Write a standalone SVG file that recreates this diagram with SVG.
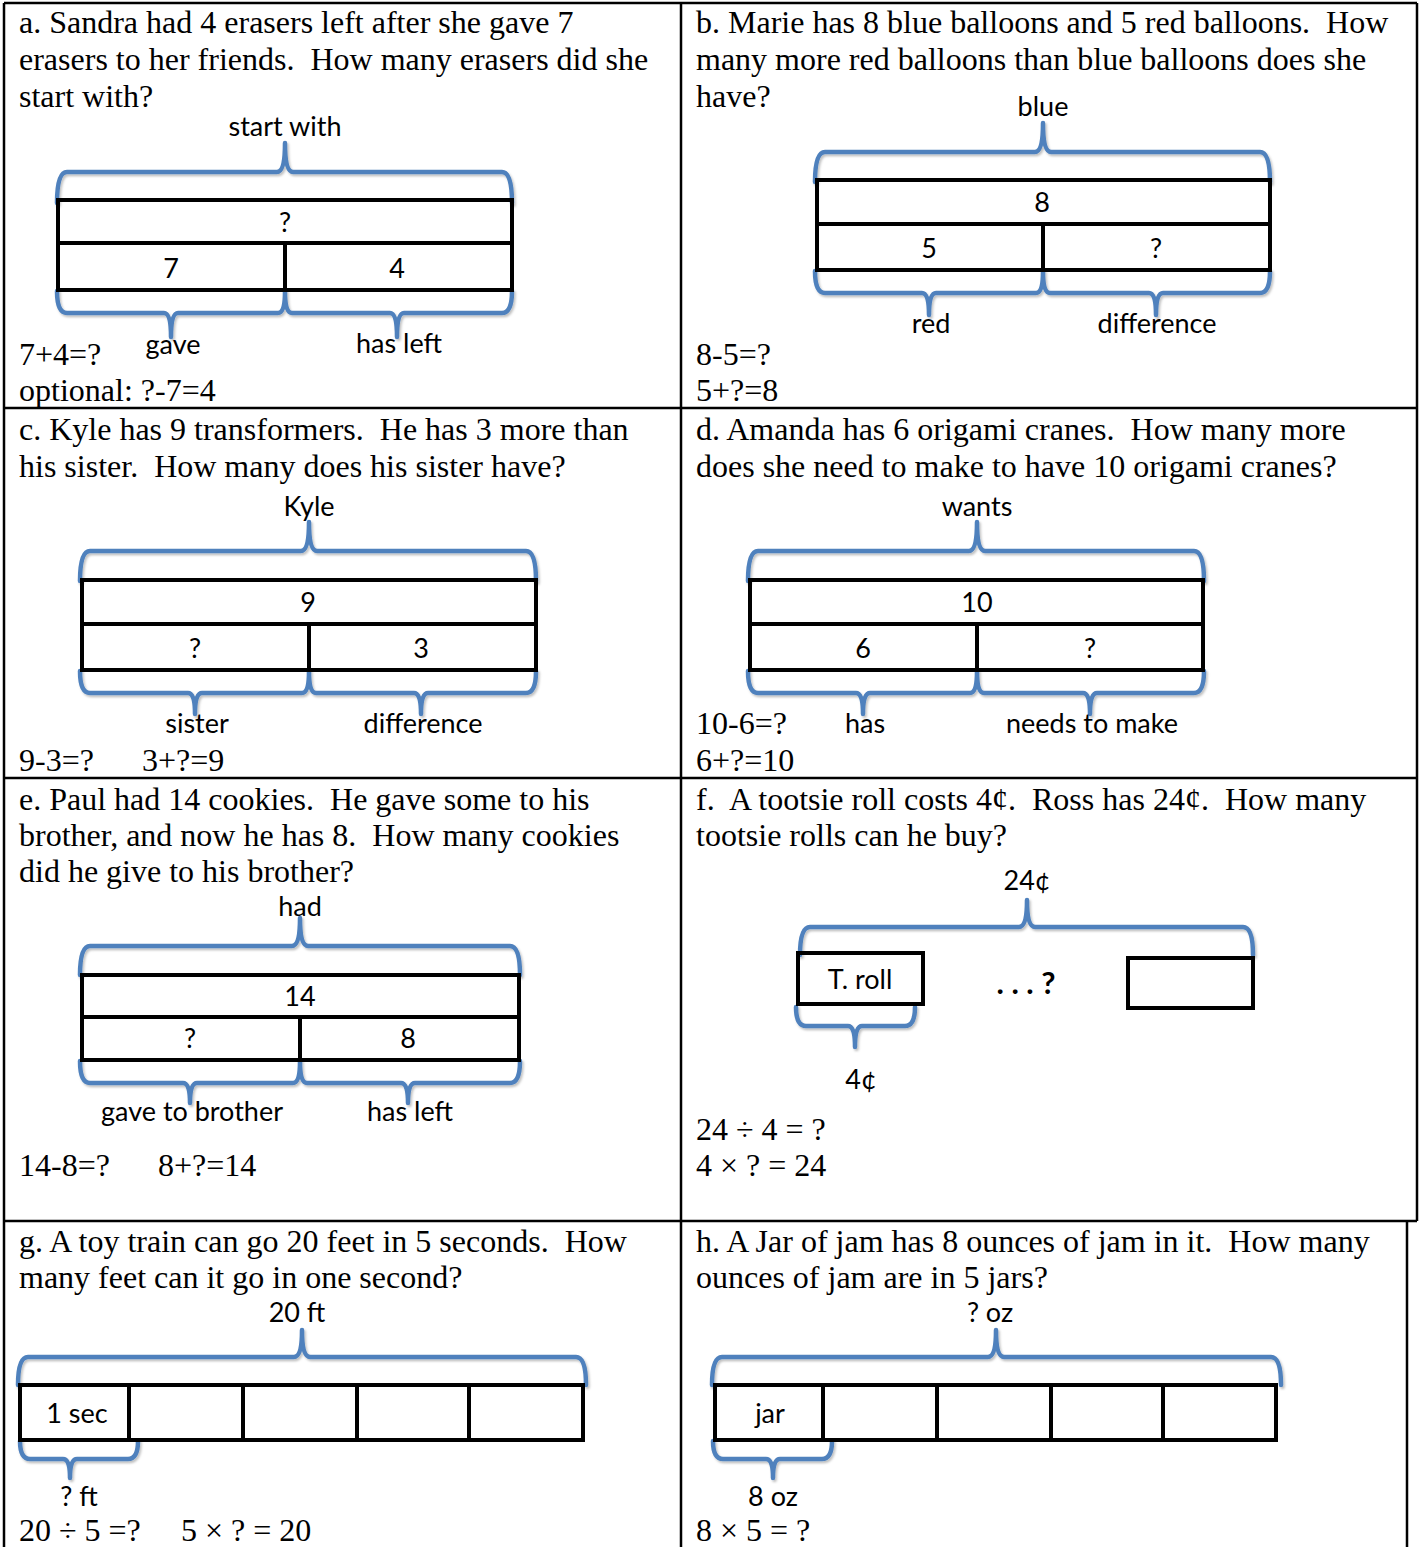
<svg xmlns="http://www.w3.org/2000/svg" width="1419" height="1547" viewBox="0 0 1419 1547" xml:space="preserve">
<defs>
<style>
.t{font-family:"Liberation Serif","Times New Roman",serif;font-size:32px;fill:#000;white-space:pre}
.l{font-family:Lato,"Liberation Sans",sans-serif;font-size:27px;fill:#000;text-anchor:middle}
.b{font-weight:bold;font-size:31px}
.grid{stroke:#000;stroke-width:2.5;fill:none}
.box{stroke:#000;stroke-width:4;fill:none}
.br{stroke:#4F81BD;stroke-width:4.5;fill:none;stroke-linecap:round;stroke-linejoin:round;filter:url(#sh)}
</style>
<filter id="sh" x="-5%" y="-30%" width="110%" height="160%">
<feDropShadow dx="1.5" dy="2" stdDeviation="1.2" flood-color="#000" flood-opacity="0.25"/>
</filter>
</defs>
<rect width="1419" height="1547" fill="#fff"/>
<g id="table">
<path class="grid" d="M4,3 H1417 M4,408 H1417 M4,778 H1417 M4,1221 H1417 M4,3 V1547 M681,3 V1547 M1417,3 V1221 M1407,1221 V1547"/>
</g>
<g id="braces">
<path class="br" d="M57,203 Q57,172 67,172 L277,172 Q285,172 285,143 Q285,172 293,172 L502,172 Q512,172 512,203"/>
<path class="br" d="M57,291 Q57,313 67,313 L164,313 Q171,313 171,337 Q171,313 178,313 L278,313 Q285,313 285,291 Q285,313 292,313 L390,313 Q397,313 397,337 Q397,313 404,313 L502,313 Q512,313 512,291"/>
<path class="br" d="M815,182 Q815,152 825,152 L1035,152 Q1043,152 1043,123 Q1043,152 1051,152 L1260,152 Q1270,152 1270,182"/>
<path class="br" d="M815,271 Q815,293 825,293 L922,293 Q929,293 929,315 Q929,293 936,293 L1036,293 Q1043,293 1043,271 Q1043,293 1050,293 L1149,293 Q1156,293 1156,315 Q1156,293 1163,293 L1260,293 Q1270,293 1270,271"/>
<path class="br" d="M80,581 Q80,551 90,551 L301,551 Q309,551 309,522 Q309,551 317,551 L526,551 Q536,551 536,581"/>
<path class="br" d="M80,671 Q80,693 90,693 L188,693 Q195,693 195,714 Q195,693 202,693 L302,693 Q309,693 309,671 Q309,693 316,693 L414,693 Q421,693 421,714 Q421,693 428,693 L526,693 Q536,693 536,671"/>
<path class="br" d="M748,581 Q748,551 758,551 L969,551 Q977,551 977,522 Q977,551 985,551 L1194,551 Q1204,551 1204,581"/>
<path class="br" d="M748,671 Q748,693 758,693 L856,693 Q863,693 863,714 Q863,693 870,693 L970,693 Q977,693 977,671 Q977,693 984,693 L1083,693 Q1090,693 1090,714 Q1090,693 1097,693 L1194,693 Q1204,693 1204,671"/>
<path class="br" d="M80,975 Q80,946 90,946 L292,946 Q300,946 300,918 Q300,946 308,946 L510,946 Q520,946 520,975"/>
<path class="br" d="M80,1061 Q80,1083 90,1083 L183,1083 Q190,1083 190,1103 Q190,1083 197,1083 L293,1083 Q300,1083 300,1061 Q300,1083 307,1083 L401,1083 Q408,1083 408,1103 Q408,1083 415,1083 L510,1083 Q520,1083 520,1061"/>
<path class="br" d="M800,955 Q800,927 810,927 L1019,927 Q1027,927 1027,900 Q1027,927 1035,927 L1243,927 Q1253,927 1253,955"/>
<path class="br" d="M796,1007 Q796,1026 806,1026 L848,1026 Q855,1026 855,1047 Q855,1026 862,1026 L905,1026 Q915,1026 915,1007"/>
<path class="br" d="M18,1385 Q18,1357 28,1357 L294,1357 Q302,1357 302,1330 Q302,1357 310,1357 L576,1357 Q586,1357 586,1385"/>
<path class="br" d="M20,1441 Q20,1459 30,1459 L63,1459 Q70,1459 70,1478 Q70,1459 77,1459 L128,1459 Q138,1459 138,1441"/>
<path class="br" d="M712,1385 Q712,1357 722,1357 L988,1357 Q996,1357 996,1330 Q996,1357 1004,1357 L1271,1357 Q1281,1357 1281,1385"/>
<path class="br" d="M713,1441 Q713,1459 723,1459 L766,1459 Q773,1459 773,1478 Q773,1459 780,1459 L822,1459 Q832,1459 832,1441"/>
</g>
<g id="panel-a">
<text class="t" x="19" y="33">a. Sandra had 4 erasers left after she gave 7</text>
<text class="t" x="19" y="70">erasers to her friends.  How many erasers did she</text>
<text class="t" x="19" y="107">start with?</text>
<text class="l" x="285" y="136">start with</text>
<g id="bar-a"><rect class="box" x="58" y="200" width="454" height="90"/><path class="box" d="M58,243 H512 M285,243 V290"/></g>
<text class="l" x="285" y="232">?</text>
<text class="l" x="171" y="278">7</text>
<text class="l" x="397" y="278">4</text>
<text class="l" x="173" y="354">gave</text>
<text class="l" x="399" y="353">has left</text>
<text class="t" x="19" y="365">7+4=?</text>
<text class="t" x="19" y="401">optional: ?-7=4</text>
</g>
<g id="panel-b">
<text class="t" x="696" y="33">b. Marie has 8 blue balloons and 5 red balloons.  How</text>
<text class="t" x="696" y="70">many more red balloons than blue balloons does she</text>
<text class="t" x="696" y="107">have?</text>
<text class="l" x="1043" y="116">blue</text>
<g id="bar-b"><rect class="box" x="817" y="180" width="453" height="90"/><path class="box" d="M817,224 H1270 M1043,224 V270"/></g>
<text class="l" x="1042" y="212">8</text>
<text class="l" x="929" y="258">5</text>
<text class="l" x="1156" y="258">?</text>
<text class="l" x="931" y="333">red</text>
<text class="l" x="1157" y="333">difference</text>
<text class="t" x="696" y="365">8-5=?</text>
<text class="t" x="696" y="401">5+?=8</text>
</g>
<g id="panel-c">
<text class="t" x="19" y="440">c. Kyle has 9 transformers.  He has 3 more than</text>
<text class="t" x="19" y="477">his sister.  How many does his sister have?</text>
<text class="l" x="309" y="516">Kyle</text>
<g id="bar-c"><rect class="box" x="82" y="580" width="454" height="90"/><path class="box" d="M82,624 H536 M309,624 V670"/></g>
<text class="l" x="308" y="612">9</text>
<text class="l" x="195" y="658">?</text>
<text class="l" x="421" y="658">3</text>
<text class="l" x="197" y="733">sister</text>
<text class="l" x="423" y="733">difference</text>
<text class="t" x="19" y="771">9-3=?</text>
<text class="t" x="142" y="771">3+?=9</text>
</g>
<g id="panel-d">
<text class="t" x="696" y="440">d. Amanda has 6 origami cranes.  How many more</text>
<text class="t" x="696" y="477">does she need to make to have 10 origami cranes?</text>
<text class="l" x="977" y="516">wants</text>
<g id="bar-d"><rect class="box" x="750" y="580" width="453" height="90"/><path class="box" d="M750,624 H1203 M977,624 V670"/></g>
<text class="l" x="977" y="612">10</text>
<text class="l" x="863" y="658">6</text>
<text class="l" x="1090" y="658">?</text>
<text class="t" x="696" y="734">10-6=?</text>
<text class="l" x="865" y="733">has</text>
<text class="l" x="1092" y="733">needs to make</text>
<text class="t" x="696" y="771">6+?=10</text>
</g>
<g id="panel-e">
<text class="t" x="19" y="810">e. Paul had 14 cookies.  He gave some to his</text>
<text class="t" x="19" y="846">brother, and now he has 8.  How many cookies</text>
<text class="t" x="19" y="882">did he give to his brother?</text>
<text class="l" x="300" y="916">had</text>
<g id="bar-e"><rect class="box" x="82" y="975" width="437" height="85"/><path class="box" d="M82,1017 H519 M300,1017 V1060"/></g>
<text class="l" x="300" y="1006">14</text>
<text class="l" x="190" y="1048">?</text>
<text class="l" x="408" y="1048">8</text>
<text class="l" x="192" y="1121">gave to brother</text>
<text class="l" x="410" y="1121">has left</text>
<text class="t" x="19" y="1176">14-8=?</text>
<text class="t" x="158" y="1176">8+?=14</text>
</g>
<g id="panel-f">
<text class="t" x="696" y="810">f.  A tootsie roll costs 4¢.  Ross has 24¢.  How many</text>
<text class="t" x="696" y="846">tootsie rolls can he buy?</text>
<text class="l" x="1027" y="890">24¢</text>
<g id="bar-f1"><rect class="box" x="798" y="953" width="125" height="51"/></g>
<text class="l" x="860" y="989">T. roll</text>
<text class="l b" x="1026" y="994">. . . ?</text>
<g id="bar-f2"><rect class="box" x="1128" y="958" width="125" height="50"/></g>
<text class="l" x="861" y="1089">4¢</text>
<text class="t" x="696" y="1140">24 ÷ 4 = ?</text>
<text class="t" x="696" y="1176">4 × ? = 24</text>
</g>
<g id="panel-g">
<text class="t" x="19" y="1252">g. A toy train can go 20 feet in 5 seconds.  How</text>
<text class="t" x="19" y="1288">many feet can it go in one second?</text>
<text class="l" x="297" y="1322">20 ft</text>
<g id="bar-g"><rect class="box" x="20" y="1385" width="563" height="55"/><path class="box" d="M129,1385 V1440 M243,1385 V1440 M357,1385 V1440 M469,1385 V1440"/></g>
<text class="l" x="77" y="1423">1 sec</text>
<text class="l" x="79" y="1506">? ft</text>
<text class="t" x="19" y="1541">20 ÷ 5 =?</text>
<text class="t" x="181" y="1541">5 × ? = 20</text>
</g>
<g id="panel-h">
<text class="t" x="696" y="1252">h. A Jar of jam has 8 ounces of jam in it.  How many</text>
<text class="t" x="696" y="1288">ounces of jam are in 5 jars?</text>
<text class="l" x="990" y="1322">? oz</text>
<g id="bar-h"><rect class="box" x="715" y="1385" width="561" height="55"/><path class="box" d="M823,1385 V1440 M937,1385 V1440 M1051,1385 V1440 M1163,1385 V1440"/></g>
<text class="l" x="770" y="1423">jar</text>
<text class="l" x="773" y="1506">8 oz</text>
<text class="t" x="696" y="1541">8 × 5 = ?</text>
</g>
</svg>
